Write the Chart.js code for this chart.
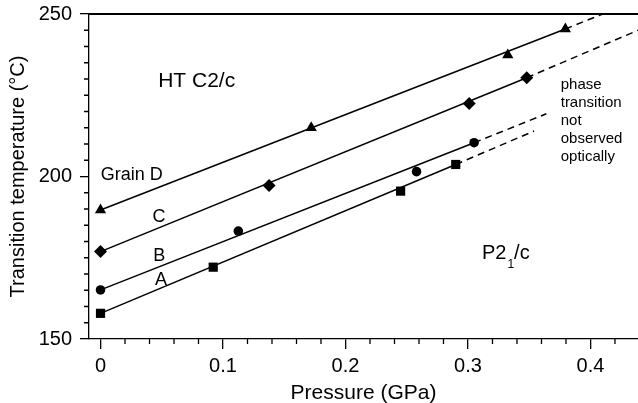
<!DOCTYPE html>
<html>
<head>
<meta charset="utf-8">
<script src="https://cdn.jsdelivr.net/npm/chart.js@4"></script>
<style>
  body { margin: 0; background: #fff; }
  #wrap { width: 638px; height: 403px; }
</style>
</head>
<body>
<div id="wrap"><canvas id="phaseChart" width="638" height="403"></canvas></div>
<script>
// measured points, pressure (GPa) vs transition temperature (deg C)
const pressureA = [0, 0.092, 0.245, 0.29];
const tempA = [157.9, 172.1, 195.5, 203.7];
const pressureB = [0, 0.1125, 0.258, 0.305];
const tempB = [165.1, 183.2, 201.5, 210.4];
const pressureC = [0, 0.1376, 0.301, 0.348];
const tempC = [176.9, 197.2, 222.5, 230.4];
const pressureD = [0, 0.172, 0.3325, 0.3795];
const tempD = [189.7, 215.0, 237.4, 245.4];

// fitted lines: solid up to the last point, dashed after it
const fitPressureA = [0, 0.29, 0.354];
const fitTempA = [157.9, 203.7, 214.0];
const fitPressureB = [0, 0.305, 0.364];
const fitTempB = [165.1, 210.4, 219.3];
const fitPressureC = [0, 0.348, 0.4388];
const fitTempC = [176.9, 230.4, 245.0];
const fitPressureD = [0, 0.3795, 0.41];
const fitTempD = [189.7, 245.4, 250.0];

// axes
const xTickValues = [0, 0.1, 0.2, 0.3, 0.4];
const xTickLabels = ['0', '0.1', '0.2', '0.3', '0.4'];
const yTickValues = [150, 200, 250];
const yTickLabels = ['150', '200', '250'];
const X_MIN = -0.0094, X_MAX = 0.4388;
const Y_MIN = 150, Y_MAX = 250;

const FONT = '"Liberation Sans", Arial, Helvetica, sans-serif';

function pts(xs, ys) {
  return xs.map((x, i) => ({ x: x, y: ys[i] }));
}

function fitLine(xs, ys) {
  return {
    data: pts(xs, ys),
    showLine: true,
    pointRadius: 0,
    borderColor: '#000',
    borderWidth: 1.5,
    segment: {
      borderDash: ctx => ctx.p0DataIndex >= 1 ? [7, 5] : undefined
    }
  };
}

function markers(xs, ys, style, r) {
  return {
    data: pts(xs, ys),
    showLine: false,
    pointStyle: style,
    pointRadius: r,
    pointBackgroundColor: '#000',
    pointBorderColor: '#000',
    pointBorderWidth: 0
  };
}

// minor ticks, labels and the top frame line
const frameTicks = {
  id: 'frameTicks',
  afterDraw(chart) {
    const { ctx, chartArea: a, scales: { x, y } } = chart;
    ctx.save();
    ctx.strokeStyle = '#000';
    ctx.lineWidth = 1.3;
    ctx.beginPath();
    for (let v = 0.02; v < X_MAX; v += 0.02) {
      if (Math.abs(v * 10 - Math.round(v * 10)) < 1e-6) continue;
      const px = x.getPixelForValue(v);
      ctx.moveTo(px, a.bottom);
      ctx.lineTo(px, a.bottom + 5);
    }
    for (let v = Y_MIN + 5; v < Y_MAX; v += 5) {
      if (v % 50 === 0) continue;
      const py = y.getPixelForValue(v);
      ctx.moveTo(a.left - 5, py);
      ctx.lineTo(a.left, py);
    }
    ctx.stroke();

    ctx.lineWidth = 2;
    ctx.beginPath();
    const top = y.getPixelForValue(Y_MAX);
    ctx.moveTo(a.left, top);
    ctx.lineTo(a.right, top);
    ctx.stroke();

    ctx.fillStyle = '#000';
    ctx.textBaseline = 'middle';
    ctx.textAlign = 'center';
    const put = (txt, vx, vy, size) => {
      ctx.font = size + 'px ' + FONT;
      ctx.fillText(txt, x.getPixelForValue(vx), y.getPixelForValue(vy));
    };
    put('HT C2/c', 0.0785, 229.2, 21);
    put('Grain D', 0.0255, 200.5, 18);
    put('C', 0.0478, 187.6, 18);
    put('B', 0.048, 175.5, 18);
    put('A', 0.0494, 168.2, 18);

    // P2_1/c
    ctx.textAlign = 'left';
    ctx.textBaseline = 'alphabetic';
    let px = x.getPixelForValue(0.3114);
    const base = y.getPixelForValue(174.6);
    ctx.font = '20px ' + FONT;
    ctx.fillText('P2', px, base);
    px += ctx.measureText('P2').width;
    ctx.font = '12px ' + FONT;
    ctx.fillText('1', px + 1, base + 9);
    px += ctx.measureText('1').width + 1;
    ctx.font = '20px ' + FONT;
    ctx.fillText('/c', px, base);

    ctx.font = '15px ' + FONT;
    const note = ['phase', 'transition', 'not', 'observed', 'optically'];
    const nx = x.getPixelForValue(0.3757);
    note.forEach((s, i) => ctx.fillText(s, nx, 88.5 + i * 18.2));
    ctx.restore();
  }
};

new Chart(document.getElementById('phaseChart').getContext('2d'), {
  type: 'scatter',
  data: {
    datasets: [
      fitLine(fitPressureA, fitTempA),
      fitLine(fitPressureB, fitTempB),
      fitLine(fitPressureC, fitTempC),
      fitLine(fitPressureD, fitTempD),
      markers(pressureA, tempA, 'rect', 6.5),
      markers(pressureB, tempB, 'circle', 4.8),
      markers(pressureC, tempC, 'rectRot', 6.5),
      markers(pressureD, tempD, 'triangle', 6.5)
    ]
  },
  options: {
    responsive: false,
    animation: false,
    layout: { autoPadding: false, padding: { top: 14, right: 0, left: 0, bottom: 0 } },
    plugins: {
      legend: { display: false },
      tooltip: { enabled: false }
    },
    scales: {
      x: {
        type: 'linear',
        min: X_MIN,
        max: X_MAX,
        afterBuildTicks: s => { s.ticks = xTickValues.map(v => ({ value: v })); },
        afterFit: s => { s.height = 64; s.paddingLeft = 0; s.paddingRight = 0; },
        ticks: {
          callback: (v, i) => xTickLabels[i],
          color: '#000',
          font: { family: FONT, size: 20 },
          padding: 5,
          maxRotation: 0
        },
        grid: { drawOnChartArea: false, drawTicks: true, tickLength: 10, color: '#000', lineWidth: 1.3 },
        border: { display: true, color: '#000', width: 1.3 },
        title: {
          display: true,
          text: 'Pressure (GPa)',
          color: '#000',
          font: { family: FONT, size: 21, lineHeight: 1 },
          padding: { top: 0, bottom: -1 }
        }
      },
      y: {
        type: 'linear',
        min: Y_MIN,
        max: Y_MAX,
        afterBuildTicks: s => { s.ticks = yTickValues.map(v => ({ value: v })); },
        afterFit: s => { s.width = 89; s.paddingTop = 0; s.paddingBottom = 0; },
        ticks: {
          callback: (v, i) => yTickLabels[i],
          color: '#000',
          font: { family: FONT, size: 20 },
          padding: 8
        },
        grid: { drawOnChartArea: false, drawTicks: true, tickLength: 9, color: '#000', lineWidth: 1.3 },
        border: { display: true, color: '#000', width: 1.3 },
        title: {
          display: true,
          text: 'Transition temperature (°C)',
          color: '#000',
          font: { family: FONT, size: 20, lineHeight: 1 },
          padding: { top: 8, bottom: 0 }
        }
      }
    }
  },
  plugins: [frameTicks]
});
</script>
</body>
</html>
